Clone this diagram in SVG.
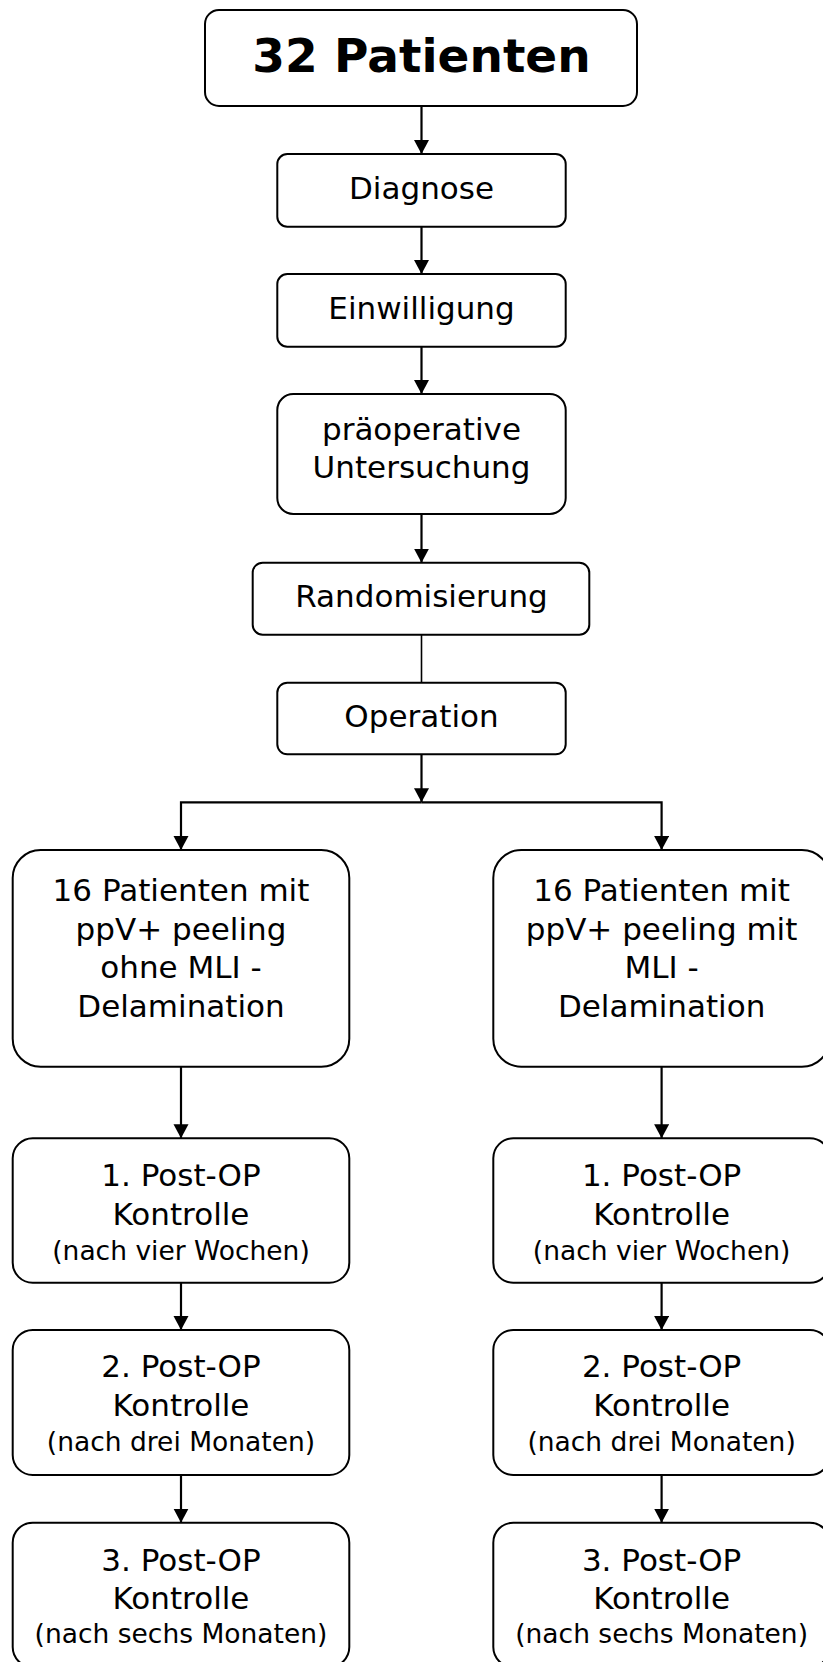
<svg xmlns="http://www.w3.org/2000/svg" width="823" height="1662" viewBox="0 0 823 1662">
<style>
.b{fill:#fff;stroke:#000;stroke-width:2}
.t{font-family:"DejaVu Sans","Verdana",sans-serif;font-size:31px;fill:#000;text-anchor:middle}
.s{font-size:26.5px}
.h{font-family:"DejaVu Sans","Verdana",sans-serif;font-size:47px;font-weight:bold;fill:#000;text-anchor:middle}
.c{fill:none;stroke:#000;stroke-width:2.2}
</style>
<defs>
<marker id="ar" markerUnits="userSpaceOnUse" markerWidth="16" markerHeight="16" refX="14" refY="7.5" orient="auto">
<path d="M0,0 L14,7.5 L0,15 Z" fill="#000"/>
</marker>
</defs>
<rect width="823" height="1662" fill="#fff"/>
<g id="connectors">
<path class="c" d="M421.5,106 V154" marker-end="url(#ar)"/>
<path class="c" d="M421.5,226.7 V274" marker-end="url(#ar)"/>
<path class="c" d="M421.5,346.7 V394" marker-end="url(#ar)"/>
<path class="c" d="M421.5,514 V562.7" marker-end="url(#ar)"/>
<path d="M421.5,634.7 V682.7" fill="none" stroke="#000" stroke-width="1.6"/>
<path class="c" d="M421.5,754.3 V802.3" marker-end="url(#ar)"/>
<path class="c" d="M421.5,802.3 H181 V850" marker-end="url(#ar)"/>
<path class="c" d="M421.5,802.3 H661.6 V850" marker-end="url(#ar)"/>
<path class="c" d="M181,1066.7 V1138.3" marker-end="url(#ar)"/>
<path class="c" d="M181,1282.7 V1330" marker-end="url(#ar)"/>
<path class="c" d="M181,1475 V1522.7" marker-end="url(#ar)"/>
<path class="c" d="M661.6,1066.7 V1138.3" marker-end="url(#ar)"/>
<path class="c" d="M661.6,1282.7 V1330" marker-end="url(#ar)"/>
<path class="c" d="M661.6,1475 V1522.7" marker-end="url(#ar)"/>
</g>
<g id="n-patienten">
<rect class="b" x="205" y="10" width="432" height="96" rx="14"/>
<text class="h" x="421.5" y="72">32 Patienten</text>
</g>
<g id="n-diagnose">
<rect class="b" x="277.3" y="154" width="288.4" height="72.7" rx="10"/>
<text class="t" x="421.5" y="199">Diagnose</text>
</g>
<g id="n-einwilligung">
<rect class="b" x="277.3" y="274" width="288.4" height="72.7" rx="10"/>
<text class="t" x="421.5" y="319">Einwilligung</text>
</g>
<g id="n-praeop">
<rect class="b" x="277.3" y="394" width="288.4" height="120" rx="16"/>
<text class="t" x="421.5" y="440">präoperative</text>
<text class="t" x="421.5" y="478">Untersuchung</text>
</g>
<g id="n-random">
<rect class="b" x="252.7" y="562.7" width="336.6" height="72" rx="10"/>
<text class="t" x="421.5" y="606.7">Randomisierung</text>
</g>
<g id="n-operation">
<rect class="b" x="277.3" y="682.7" width="288.4" height="71.6" rx="10"/>
<text class="t" x="421.5" y="726.7">Operation</text>
</g>
<g id="n-ohne">
<rect class="b" x="12.7" y="850" width="336.6" height="216.7" rx="28"/>
<text class="t" x="181" y="901">16 Patienten mit</text>
<text class="t" x="181" y="940">ppV+ peeling</text>
<text class="t" x="181" y="978">ohne MLI -</text>
<text class="t" x="181" y="1016.7">Delamination</text>
</g>
<g id="n-mit">
<rect class="b" x="493.3" y="850" width="336.6" height="216.7" rx="28"/>
<text class="t" x="661.6" y="901">16 Patienten mit</text>
<text class="t" x="661.6" y="940">ppV+ peeling mit</text>
<text class="t" x="661.6" y="978">MLI -</text>
<text class="t" x="661.6" y="1016.7">Delamination</text>
</g>
<g id="n-l1">
<rect class="b" x="12.7" y="1138.3" width="336.6" height="144.4" rx="20"/>
<text class="t" x="181" y="1186">1. Post-OP</text>
<text class="t" x="181" y="1225">Kontrolle</text>
<text class="t s" x="181" y="1260">(nach vier Wochen)</text>
</g>
<g id="n-l2">
<rect class="b" x="12.7" y="1330" width="336.6" height="145" rx="20"/>
<text class="t" x="181" y="1377">2. Post-OP</text>
<text class="t" x="181" y="1416">Kontrolle</text>
<text class="t s" x="181" y="1450.7">(nach drei Monaten)</text>
</g>
<g id="n-l3">
<rect class="b" x="12.7" y="1522.7" width="336.6" height="144.4" rx="20"/>
<text class="t" x="181" y="1570.7">3. Post-OP</text>
<text class="t" x="181" y="1609">Kontrolle</text>
<text class="t s" x="181" y="1643">(nach sechs Monaten)</text>
</g>
<g id="n-r1">
<rect class="b" x="493.3" y="1138.3" width="336.6" height="144.4" rx="20"/>
<text class="t" x="661.6" y="1186">1. Post-OP</text>
<text class="t" x="661.6" y="1225">Kontrolle</text>
<text class="t s" x="661.6" y="1260">(nach vier Wochen)</text>
</g>
<g id="n-r2">
<rect class="b" x="493.3" y="1330" width="336.6" height="145" rx="20"/>
<text class="t" x="661.6" y="1377">2. Post-OP</text>
<text class="t" x="661.6" y="1416">Kontrolle</text>
<text class="t s" x="661.6" y="1450.7">(nach drei Monaten)</text>
</g>
<g id="n-r3">
<rect class="b" x="493.3" y="1522.7" width="336.6" height="144.4" rx="20"/>
<text class="t" x="661.6" y="1570.7">3. Post-OP</text>
<text class="t" x="661.6" y="1609">Kontrolle</text>
<text class="t s" x="661.6" y="1643">(nach sechs Monaten)</text>
</g>
</svg>
